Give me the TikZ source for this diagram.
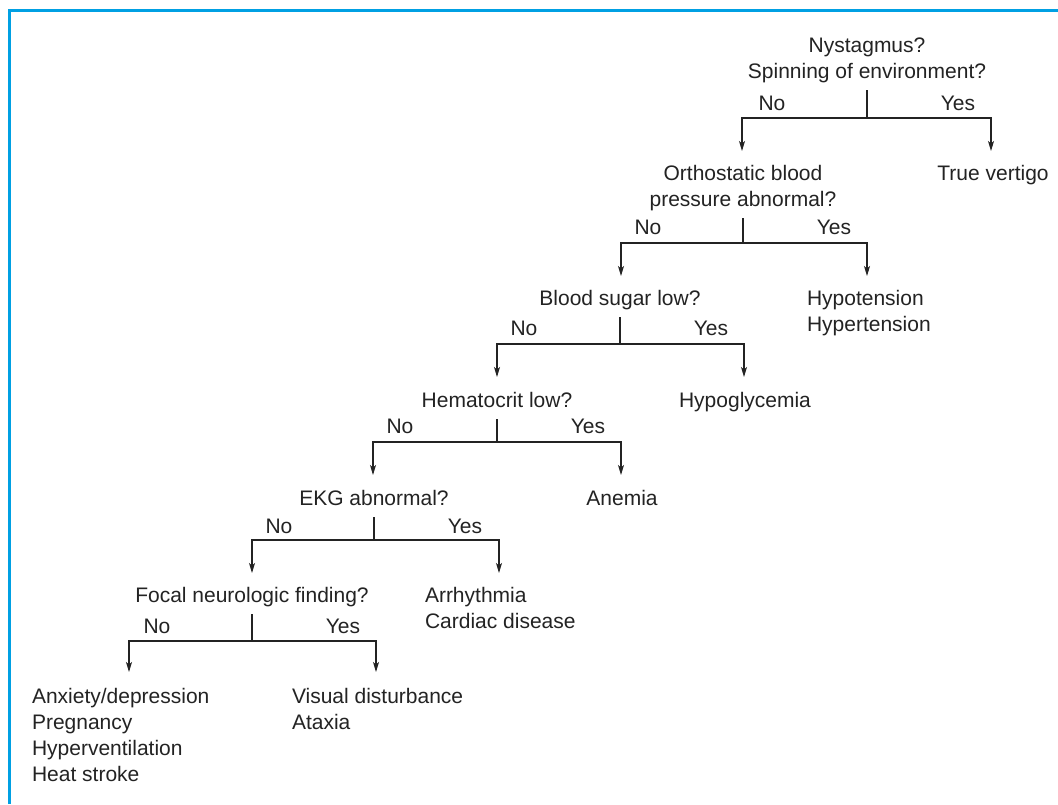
\documentclass[tikz,border=0pt]{standalone}
\usepackage{fontspec}
\setmainfont{Liberation Sans}
\usetikzlibrary{arrows.meta}
\definecolor{framecol}{RGB}{0,160,227}
\definecolor{ink}{RGB}{35,35,35}
\begin{document}
\begin{tikzpicture}[x=1pt,y=-1pt,
  txt/.style={inner sep=0pt, outer sep=0pt, font=\fontsize{21}{26}\selectfont, text=ink},
  % multi-line nodes are placed by the baseline of their last line
  question/.style={txt, align=center, anchor=base, text depth=5pt},
  result/.style={txt, anchor=base},
  resultlist/.style={txt, align=left, anchor=base west},
  branchlabel/.style={txt, anchor=base},
  stem/.style={draw=ink, line width=1.1pt, shorten <=7pt},
  branch/.style={draw=ink, line width=1.1pt, -{Stealth[length=10pt,width=6pt,inset=2.5pt]}},
]
\useasboundingbox (0,0) rectangle (1058,804);
\fill[white] (0,0) rectangle (1058,804);
% frame
\draw[framecol, line width=3pt] (9.5,804) -- (9.5,10) -- (1058,10);

% level 1
\node[question] (q1) at (867,78) {Nystagmus?\\Spinning of environment?};
\coordinate (j1) at (867,118);
\coordinate (t1n) at (742,151);
\coordinate (t1y) at (991,151);
\draw[stem] (q1.south) -- (j1);
\draw[branch] (j1) -| (t1n);
\draw[branch] (j1) -| (t1y);
\node[branchlabel] (n1) at (772,110) {No};
\node[branchlabel] (y1) at (958,110) {Yes};
\node[result] (r1) at (993,180) {True vertigo};

% level 2
\node[question] (q2) at (743,206) {Orthostatic blood\\pressure abnormal?};
\coordinate (j2) at (743,243);
\coordinate (t2n) at (621,276);
\coordinate (t2y) at (867,276);
\draw[stem] (q2.south) -- (j2);
\draw[branch] (j2) -| (t2n);
\draw[branch] (j2) -| (t2y);
\node[branchlabel] (n2) at (648,234) {No};
\node[branchlabel] (y2) at (834,234) {Yes};
\node[resultlist] (r2) at (807,331) {Hypotension\\Hypertension};

% level 3
\node[question] (q3) at (620,305) {Blood sugar low?};
\coordinate (j3) at (620,344);
\coordinate (t3n) at (497,377);
\coordinate (t3y) at (744,377);
\draw[stem] (q3.south) -- (j3);
\draw[branch] (j3) -| (t3n);
\draw[branch] (j3) -| (t3y);
\node[branchlabel] (n3) at (524,335) {No};
\node[branchlabel] (y3) at (711,335) {Yes};
\node[result] (r3) at (745,407) {Hypoglycemia};

% level 4
\node[question] (q4) at (497,407) {Hematocrit low?};
\coordinate (j4) at (497,442);
\coordinate (t4n) at (373,475);
\coordinate (t4y) at (621,475);
\draw[stem] (q4.south) -- (j4);
\draw[branch] (j4) -| (t4n);
\draw[branch] (j4) -| (t4y);
\node[branchlabel] (n4) at (400,433) {No};
\node[branchlabel] (y4) at (588,433) {Yes};
\node[result] (r4) at (622,505) {Anemia};

% level 5
\node[question] (q5) at (374,505) {EKG abnormal?};
\coordinate (j5) at (374,540);
\coordinate (t5n) at (252,573);
\coordinate (t5y) at (499,573);
\draw[stem] (q5.south) -- (j5);
\draw[branch] (j5) -| (t5n);
\draw[branch] (j5) -| (t5y);
\node[branchlabel] (n5) at (279,533) {No};
\node[branchlabel] (y5) at (465,533) {Yes};
\node[resultlist] (r5) at (425,628) {Arrhythmia\\Cardiac disease};

% level 6
\node[question] (q6) at (252,602) {Focal neurologic finding?};
\coordinate (j6) at (252,641);
\coordinate (t6n) at (129,672);
\coordinate (t6y) at (376,672);
\draw[stem] (q6.south) -- (j6);
\draw[branch] (j6) -| (t6n);
\draw[branch] (j6) -| (t6y);
\node[branchlabel] (n6) at (157,633) {No};
\node[branchlabel] (y6) at (343,633) {Yes};
\node[resultlist] (r6) at (292,729) {Visual disturbance\\Ataxia};
\node[resultlist] (r7) at (32,781) {Anxiety/depression\\Pregnancy\\Hyperventilation\\Heat stroke};
\end{tikzpicture}
\end{document}
